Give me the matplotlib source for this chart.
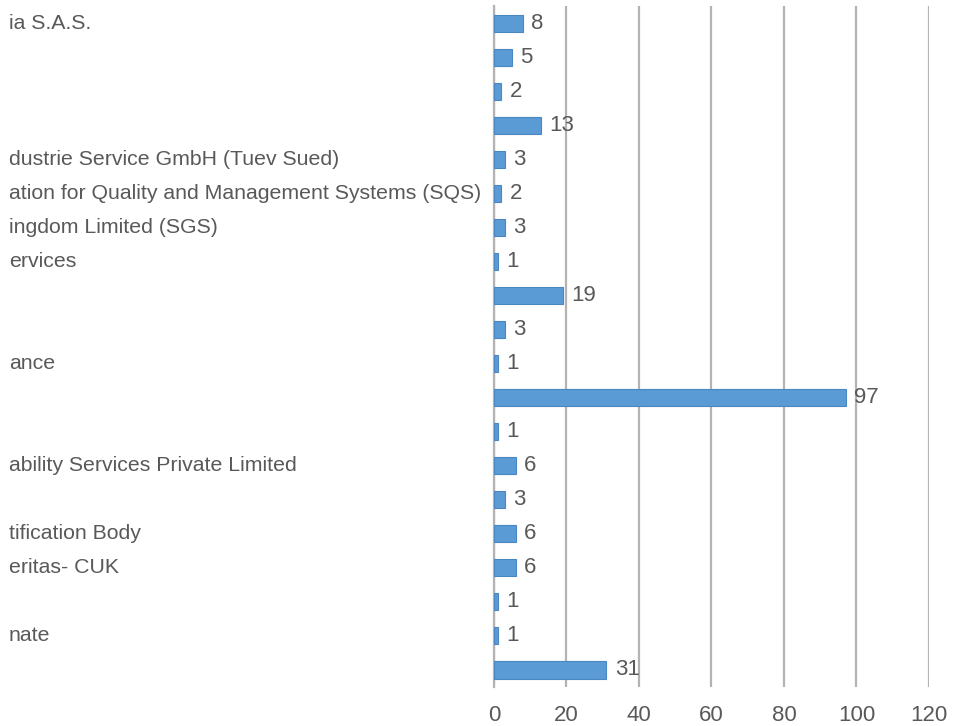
import matplotlib.pyplot as plt
import matplotlib.transforms as mtransforms

plt.rcParams['font.family'] = ['Liberation Sans', 'DejaVu Sans']

# categories top to bottom (left part of the labels is cut off in the source)
labels = [
    "ia S.A.S.",
    "",
    "",
    "",
    "dustrie Service GmbH (Tuev Sued)",
    "ation for Quality and Management Systems (SQS)",
    "ingdom Limited (SGS)",
    "ervices",
    "",
    "",
    "ance",
    "",
    "",
    "ability Services Private Limited",
    "",
    "tification Body",
    "eritas- CUK",
    "",
    "nate",
    "",
]
counts = [8, 5, 2, 13, 3, 2, 3, 1, 19, 3, 1, 97, 1, 6, 3, 6, 6, 1, 1, 31]
xticks = [0, 20, 40, 60, 80, 100, 120]

text_col = '#595959'
bar_col = '#5B9BD5'
grid_col = '#b3b3b3'

fig = plt.figure(figsize=(9.61, 7.26), dpi=100)
ax = fig.add_axes([0.514, 0.0537, 0.4527, 0.938])

ypos = list(range(len(counts)))
ax.barh(ypos, counts, height=0.5, color=bar_col, edgecolor='#4a86bf',
        linewidth=0.8, zorder=3)

ax.set_xlim(0, 120)
ax.set_ylim(len(counts) - 0.5, -0.5)
ax.set_xticks(xticks)
ax.set_xticklabels([str(v) for v in xticks], fontsize=16, color=text_col)
ax.set_yticks([])
ax.tick_params(axis='x', length=0, pad=13)

ax.grid(axis='x', color=grid_col, linewidth=1.6, zorder=0)
for s in ['top', 'right', 'bottom']:
    ax.spines[s].set_visible(False)
ax.spines['left'].set_color(grid_col)
ax.spines['left'].set_linewidth(1.6)

# value labels
for y, v in zip(ypos, counts):
    ax.annotate(str(v), (v, y), xytext=(6, 0), textcoords='offset points',
                ha='left', va='center', fontsize=16, color=text_col, zorder=4)

# category labels, left aligned from the figure edge
trans = mtransforms.blended_transform_factory(fig.transFigure, ax.transData)
for y, lab in zip(ypos, labels):
    if lab:
        ax.text(0.009, y, lab, transform=trans, ha='left', va='center',
                fontsize=15.3, color=text_col, clip_on=False)

fig.savefig('out.png', dpi=100)
